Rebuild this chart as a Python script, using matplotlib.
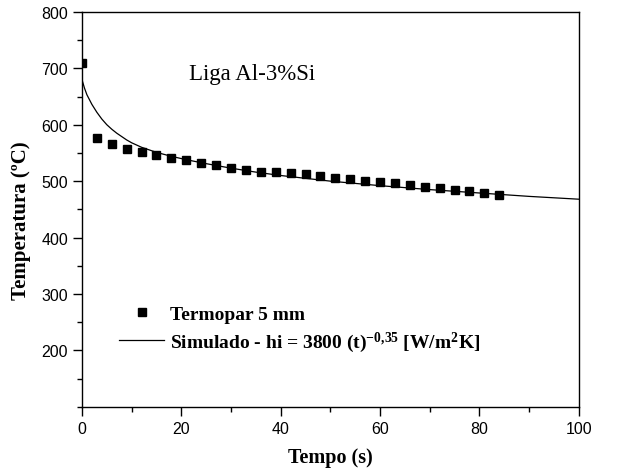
import numpy as np
import matplotlib
matplotlib.use("Agg")
import matplotlib.pyplot as plt
from matplotlib.ticker import MultipleLocator

# thermocouple readings (every 3 s)
t_exp = [0, 3, 6, 9, 12, 15, 18, 21, 24, 27, 30, 33, 36, 39, 42, 45, 48, 51,
         54, 57, 60, 63, 66, 69, 72, 75, 78, 81, 84]
T_exp = [709, 576, 566, 557, 551, 546, 541, 537, 532, 529, 524, 520, 517, 517,
         514, 512, 509, 506, 504, 501, 499, 496, 493, 490, 488, 485, 483, 479, 475]

# simulated curve
t_sim = [0, 0.5, 1, 2, 3, 4, 5, 6, 7, 8, 9, 10, 12, 15, 18, 21, 25, 30, 35,
         40, 50, 60, 70, 80, 90, 100]
T_sim = [680, 665, 653, 636, 622, 610, 600, 592, 585, 579, 573, 568, 560, 551,
         544, 538, 531, 523, 516, 510, 500, 492, 485, 479, 473, 468]

plt.rcParams["mathtext.fontset"] = "custom"
plt.rcParams["mathtext.rm"] = "Liberation Serif:bold"
plt.rcParams["mathtext.default"] = "rm"

fig = plt.figure(figsize=(6.21, 4.77), dpi=100)
ax = fig.add_axes([0.132, 0.145, 0.8, 0.828])

ax.plot(t_exp, T_exp, "s", color="black", markersize=6.2, label="Termopar 5 mm")
ax.plot(t_sim, T_sim, "-", color="black", linewidth=0.9,
        label="Simulado - hi = 3800 (t)$^{-0{,}35}$ [W/m$^2$K]")

ax.set_xlim(0, 100)
ax.set_ylim(100, 800)
ax.set_xticks([0, 20, 40, 60, 80, 100])
ax.set_yticks([200, 300, 400, 500, 600, 700, 800])
ax.xaxis.set_minor_locator(MultipleLocator(10))
ax.yaxis.set_minor_locator(MultipleLocator(50))
ax.tick_params(which="major", direction="out", length=6.5, width=1,
               labelsize=11.5, top=False, right=False)
ax.tick_params(which="minor", direction="out", length=3.5, width=1,
               top=False, right=False)
for lab in ax.get_xticklabels() + ax.get_yticklabels():
    lab.set_family("Liberation Sans")
for sp in ax.spines.values():
    sp.set_linewidth(1)

ax.set_xlabel("Tempo (s)", fontfamily="Liberation Serif", fontweight="bold",
              fontsize=14.5, labelpad=8)
ax.set_ylabel("Temperatura (ºC)", fontfamily="Liberation Serif",
              fontweight="bold", fontsize=15)
ax.yaxis.set_label_coords(-0.103, 0.475)

ax.text(21.5, 690, "Liga Al-3%Si", fontfamily="Liberation Serif", fontsize=16.5,
        va="center")

ax.legend(loc="center left", bbox_to_anchor=(0.075, 0.195), frameon=False,
          borderpad=0, borderaxespad=0,
          prop={"family": "Liberation Serif", "weight": "bold", "size": 14},
          handlelength=2.3, handletextpad=0.3, labelspacing=0.35, markerscale=0.85)

fig.savefig("out.png", dpi=100)
